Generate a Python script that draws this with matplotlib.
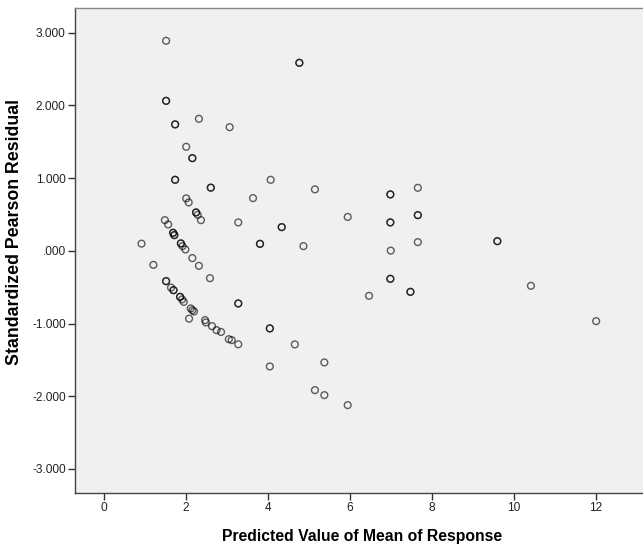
import numpy as np
import matplotlib
matplotlib.use("Agg")
import matplotlib.pyplot as plt

plt.rcParams['font.family'] = ['Liberation Sans', 'DejaVu Sans']

# predicted mean vs standardized pearson residual
# n = how many cases sit on the same spot (darker rings)
pred = [1.51, 4.76, 1.51, 1.73, 2.31, 3.06, 2.00, 2.15, 1.73, 2.60,
        4.06, 5.14, 5.94, 2.00, 2.06, 3.63, 2.24, 2.28, 2.36, 1.48,
        1.56, 3.27, 4.33, 1.68, 1.71, 0.91, 1.87, 1.91, 1.98, 3.80,
        4.86, 2.15, 1.20, 2.31, 2.58, 1.51, 1.63, 1.69, 1.85, 1.90,
        1.94, 2.11, 2.15, 2.19, 3.27, 2.07, 2.46, 2.48, 2.63, 2.74,
        2.85, 3.04, 3.11, 3.27, 4.04, 4.65, 4.04, 5.37, 5.14, 5.37,
        5.94, 6.99, 7.65, 9.59, 6.98, 6.46, 7.47, 10.41, 12.00, 7.65,
        6.98, 6.98, 7.65]
resid = [2.889, 2.586, 2.063, 1.739, 1.816, 1.701, 1.431, 1.275, 0.977, 0.869,
         0.977, 0.845, 0.466, 0.721, 0.666, 0.725, 0.528, 0.495, 0.422, 0.422,
         0.363, 0.391, 0.326, 0.248, 0.216, 0.099, 0.102, 0.065, 0.019, 0.096,
         0.065, -0.100, -0.193, -0.206, -0.376, -0.417, -0.506, -0.541, -0.633, -0.668,
         -0.702, -0.792, -0.816, -0.834, -0.724, -0.933, -0.953, -0.985, -1.036, -1.091,
         -1.116, -1.215, -1.228, -1.286, -1.067, -1.287, -1.590, -1.535, -1.916, -1.985,
         -2.122, 0.003, 0.120, 0.133, -0.385, -0.619, -0.564, -0.481, -0.967, 0.867,
         0.776, 0.391, 0.491]
n = [1, 2, 2, 2, 1, 1, 1, 2, 2, 2,
     1, 1, 1, 1, 1, 1, 2, 1, 1, 1,
     1, 1, 2, 2, 2, 1, 2, 1, 1, 2,
     1, 1, 1, 1, 1, 2, 1, 2, 2, 1,
     1, 1, 1, 1, 2, 1, 1, 1, 1, 1,
     1, 1, 1, 1, 2, 1, 1, 1, 1, 1,
     1, 1, 1, 2, 2, 1, 2, 1, 1, 1,
     2, 2, 2]

x_ticks = [0, 2, 4, 6, 8, 10, 12]
y_ticks = [3, 2, 1, 0, -1, -2, -3]
y_labels = ["3.000", "2.000", "1.000", ".000", "-1.000", "-2.000", "-3.000"]

W, H = 643, 545
fig = plt.figure(figsize=(W / 100, H / 100), dpi=100)
ax = fig.add_axes([74.7 / W, (H - 493.3) / H, (W - 74.7) / W + 0.01, 485.3 / H])
ax.set_facecolor("#f0f0f0")

xs = np.repeat(pred, n)
ys = np.repeat(resid, n)
ax.scatter(xs, ys, s=24, facecolors="none", edgecolors="black",
           linewidths=1.0, alpha=0.62, zorder=3)

ax.set_xlim(-0.72, 13.3)
ax.set_ylim(-3.335, 3.34)
ax.set_xticks(x_ticks)
ax.set_xticklabels([str(t) for t in x_ticks])
ax.set_yticks(y_ticks)
ax.set_yticklabels(y_labels)

for s in ["left", "bottom", "top"]:
    ax.spines[s].set_color("#444444")
    ax.spines[s].set_linewidth(1.0)
ax.spines["top"].set_color("#888888")
ax.spines["right"].set_visible(False)

ax.tick_params(axis="both", direction="out", length=5, width=1.0,
               color="#333333", labelsize=8.6, labelcolor="#222222", pad=1.5)

ax.set_xlabel("Predicted Value of Mean of Response", fontsize=11.3, fontweight="bold")
ax.set_ylabel("Standardized Pearson Residual", fontsize=12.8, fontweight="bold")
ax.xaxis.set_label_coords(0.5, -0.088)
ax.yaxis.set_label_coords((15 - 74.7) / 568.3, 0.538)
ax.xaxis.label.set_va("center")
ax.yaxis.label.set_va("center")

fig.savefig("out.png", dpi=100, facecolor="white")
